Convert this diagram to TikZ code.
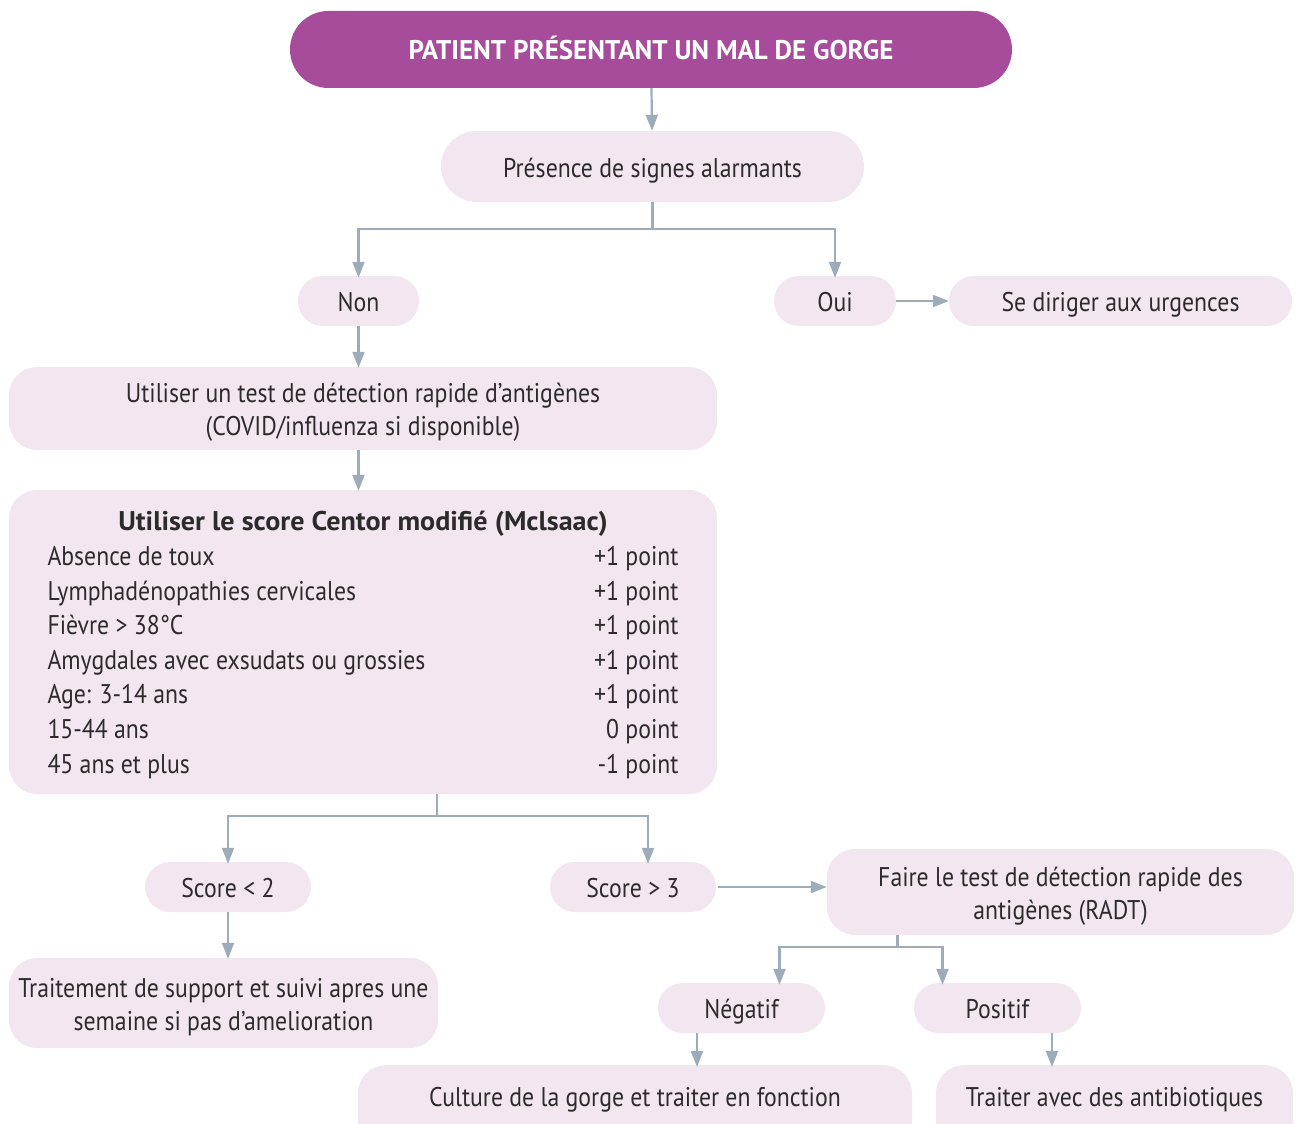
\documentclass[tikz,border=0pt]{standalone}
\usepackage{fontspec}
\setmainfont{PT Sans}[FakeStretch=0.88]
\newfontfamily\heavy{PT Sans}[FakeStretch=1.0]
\newfontfamily\heavytitle{PT Sans}[FakeStretch=1.04]
\usetikzlibrary{arrows.meta}
\definecolor{hdr}{HTML}{A64C9A}
\definecolor{pale}{HTML}{F2E7F1}
\definecolor{conn}{HTML}{9CACBB}
\definecolor{ink}{HTML}{2D2A2C}
% line strut: 27pt above the baseline, 6pt below
\newcommand\fs{\rule[-6pt]{0pt}{33pt}}

\begin{document}
\begin{tikzpicture}[x=1pt,y=-1pt,
  base/.style={fill=pale, draw=none, text=ink, align=center, inner sep=0pt,
    font=\fontsize{27}{33}\selectfont},
  pill/.style={base, minimum height=50pt, rounded corners=24.9pt},
  card/.style={base, rounded corners=28pt},
  caption/.style={text=ink, inner sep=0pt, font=\fontsize{27}{33}\selectfont},
  arr/.style={draw=conn, line width=2.2pt,
    -{Triangle[length=16pt,width=12pt]}},
  wire/.style={draw=conn, line width=2.2pt}]
\useasboundingbox (0,0) rectangle (1302,1124);
\clip (0,0) rectangle (1302,1124);

% title
\node[base, fill=hdr, text=white, minimum width=722pt, minimum height=77pt,
  rounded corners=38.4pt, font=\heavy\fontsize{27}{30}\selectfont\bfseries]
  (hdr) at (651,49.5) {\fs PATIENT PRÉSENTANT UN MAL DE GORGE};

\node[base, minimum width=423pt, minimum height=71pt, rounded corners=35.4pt]
  (pres) at (652.5,166.5) {\fs Présence de signes alarmants};

\node[pill, minimum width=121pt] (non) at (358.5,301) {\fs Non};
\node[pill, minimum width=122pt] (oui) at (835,301) {\fs Oui};
\node[pill, minimum width=343pt] (urg) at (1120.5,301) {\fs Se diriger aux urgences};

\node[card, minimum width=708pt, minimum height=83pt] (rapid) at (363,408.5)
  {\fs Utiliser un test de détection rapide d’antigènes\\\fs(COVID/influenza si disponible)};

% McIsaac score table
\node[card, minimum width=708pt, minimum height=304pt] (centor) at (363,642) {};
\node[caption] (centorT) at (363,645) {%
  \fontsize{27}{34.6}\selectfont
  \begin{tabular*}{631pt}{@{}l@{\extracolsep{\fill}}r@{}}
  \multicolumn{2}{c}{\heavytitle\bfseries Utiliser le score Centor modifié (Mclsaac)}\\
  Absence de toux & +1 point\\
  Lymphadénopathies cervicales & +1 point\\
  Fièvre > 38°C & +1 point\\
  Amygdales avec exsudats ou grossies & +1 point\\
  Age: 3-14 ans & +1 point\\
  15-44 ans & 0 point\\
  45 ans et plus & -1 point
  \end{tabular*}};

\node[pill, minimum width=166pt] (low) at (228,887) {\fs Score < 2};
\node[pill, minimum width=166pt] (high) at (633,887) {\fs Score > 3};

\node[card, minimum width=467pt, minimum height=86pt] (radt) at (1060.5,892)
  {\fs Faire le test de détection rapide des\\\fs antigènes (RADT)};

\node[card, minimum width=429pt, minimum height=90pt] (support) at (223.5,1003)
  {\fs Traitement de support et suivi apres une\\\fs semaine si pas d’amelioration};

\node[pill, minimum width=167pt] (neg) at (741.5,1008) {\fs Négatif};
\node[pill, minimum width=167pt] (pos) at (997.5,1008) {\fs Positif};

% lower boxes run past the bottom edge
\node[card, minimum width=554pt, minimum height=110pt, anchor=north]
  (culture) at (635,1065) {};
\node[caption] (cultureT) at (635,1096) {\fs Culture de la gorge et traiter en fonction};
\node[card, minimum width=357pt, minimum height=110pt, anchor=north]
  (abx) at (1114.5,1065) {};
\node[caption] (abxT) at (1114.5,1096) {\fs Traiter avec des antibiotiques};

% connectors
\draw[arr] (hdr) -- (pres);
\draw[wire] (pres.south) -- ++(0,27) coordinate (j1);
\draw[arr] (j1) -| ([yshift=-2pt]non.north);
\draw[arr] (j1) -| ([yshift=-2pt]oui.north);
\draw[arr] (oui) -- (urg);
\draw[arr] (non.south) -- ([yshift=-1pt]rapid.north -| non.south);
\draw[arr] (rapid.south -| non.south) -- ([yshift=-1pt]centor.north -| non.south);
\draw[wire] ([xshift=74pt]centor.south) -- ++(0,22) coordinate (j2);
\draw[arr] (j2) -| ([yshift=-2pt]low.north);
\draw[arr] (j2) -| ([xshift=15pt,yshift=-2pt]high.north);
\draw[arr] ([xshift=2pt]high.east) -- (radt.west |- high);
\draw[arr] (low.south) -- ([yshift=-1pt]support.north -| low.south);
\draw[wire] ([xshift=-163pt]radt.south) -- ++(0,12) coordinate (j3);
\draw[arr] (j3) -| ([xshift=38pt,yshift=-2pt]neg.north);
\draw[arr] (j3) -| ([xshift=-55pt,yshift=-2pt]pos.north);
\path ([xshift=-44.5pt]neg.south) coordinate (n1)
      ([xshift=54.5pt]pos.south) coordinate (p1);
\draw[arr] (n1) -- ([yshift=-2pt]n1 |- culture.north);
\draw[arr] (p1) -- ([yshift=-2pt]p1 |- abx.north);
\end{tikzpicture}
\end{document}
